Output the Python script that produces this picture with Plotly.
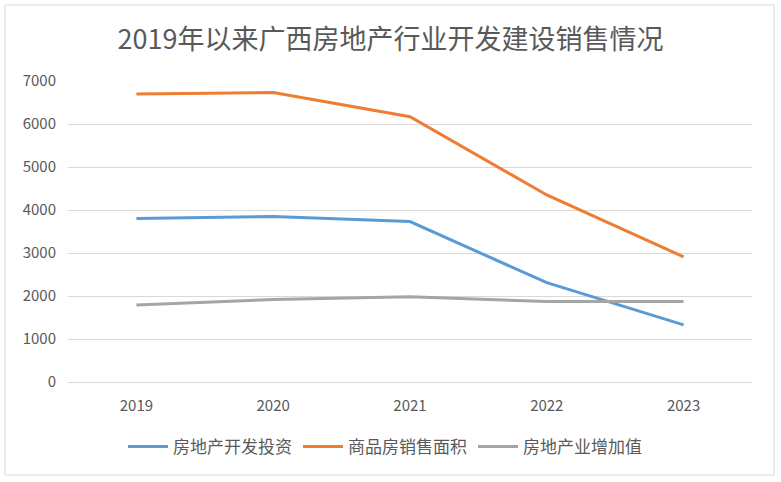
import plotly.graph_objects as go

years = ["2019", "2020", "2021", "2022", "2023"]
invest = [3800, 3850, 3730, 2310, 1330]
sales_area = [6700, 6730, 6170, 4350, 2910]
added_value = [1790, 1920, 1985, 1870, 1870]

series = [
    ("房地产开发投资", invest, "#5B9BD5"),
    ("商品房销售面积", sales_area, "#ED7D31"),
    ("房地产业增加值", added_value, "#A5A5A5"),
]

FONT = "Noto Sans CJK SC"
TXT = "#595959"

fig = go.Figure()
for name, vals, col in series:
    fig.add_trace(go.Scatter(x=years, y=vals, name=name, mode="lines",
                             line=dict(color=col, width=3)))

fig.update_layout(
    width=781, height=482,
    margin=dict(l=68, r=29, t=81, b=100),
    paper_bgcolor="white", plot_bgcolor="white",
    font=dict(family=FONT, color=TXT, size=15),
    title=dict(text="2019年以来广西房地产行业开发建设销售情况", x=0.5, xanchor="center",
               y=1 - 40 / 482, yanchor="middle",
               font=dict(family=FONT, size=27, color=TXT)),
    showlegend=True,
    legend=dict(orientation="h", x=0.5 - 24.5 / 684, xanchor="center", y=(382 - 447) / 301,
                yanchor="middle",
                font=dict(family=FONT, size=17, color=TXT), itemwidth=40,
                entrywidth=120, entrywidthmode="pixels"),
    xaxis=dict(type="category", range=[-0.5, 4.5], showgrid=False, showline=True,
               linecolor="#D9D9D9", linewidth=1, ticks="outside", ticklen=10,
               tickcolor="rgba(0,0,0,0)", tickfont=dict(family=FONT, size=15, color=TXT)),
    yaxis=dict(range=[0, 7000], dtick=1000, showgrid=True, gridcolor="#D9D9D9", gridwidth=1,
               zeroline=False, showline=False, ticklabelstandoff=11,
               tickfont=dict(family=FONT, size=15, color=TXT)),
    shapes=[dict(type="rect", xref="paper", yref="paper",
                 x0=(5 - 68) / 684, x1=(774 - 68) / 684,
                 y0=(382 - 475) / 301, y1=(382 - 5) / 301,
                 line=dict(color="#D9D9D9", width=1), fillcolor="rgba(0,0,0,0)", layer="below")],
)

fig.write_html("out.html", config={"displayModeBar": False},
               post_script="document.body.style.margin='0';")
